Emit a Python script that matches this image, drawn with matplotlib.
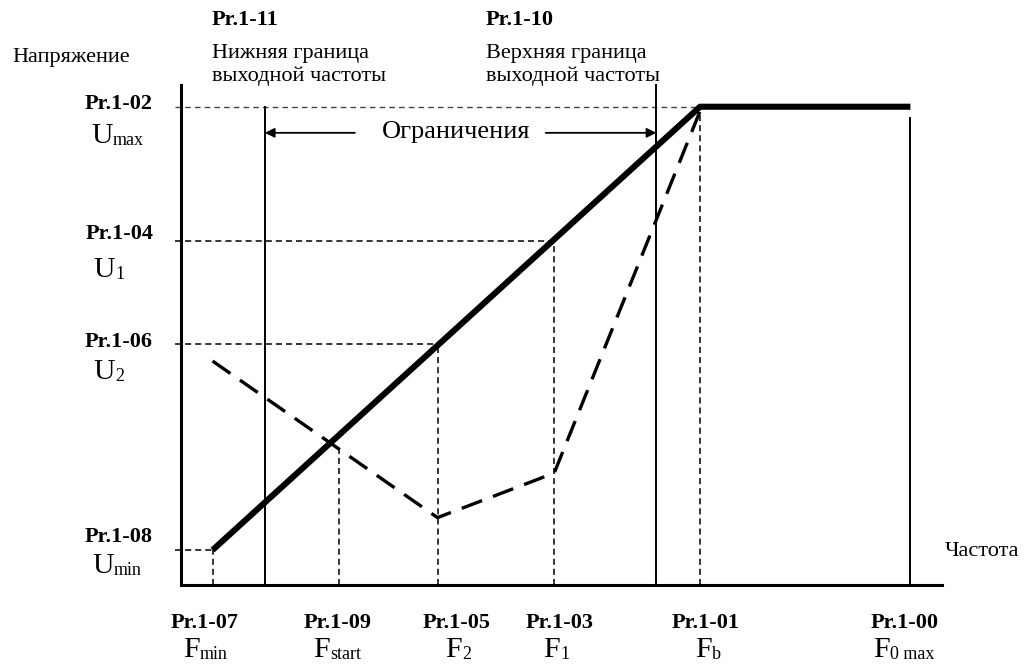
import numpy as np
import matplotlib
matplotlib.use("Agg")
import matplotlib.pyplot as plt

plt.rcParams['font.family'] = ['Liberation Serif', 'DejaVu Serif']

# frequencies (Hz) of the characteristic points
F_min = 2.6
F_low = 6.9      # Pr.1-11 lower limit
F_start = 13.0
F_2 = 21.1
F_1 = 30.7
F_high = 39.1    # Pr.1-10 upper limit
F_b = 42.7
F_0max = 60.0
x_end = 62.6

# voltages (V)
U_min = 16.1
U_2 = 110.9
U_1 = 158.3
U_max = 220.0
y_top = 230.0
U_f0 = 215.0     # height of the F0max line

# solid V/f line
solid_x = [F_min, F_b, F_0max]
solid_y = [U_min, U_max, U_max]

# dashed custom curve
curve_x = [F_min, F_2, F_1, F_b]
curve_y = [103.0, 31.0, 51.5, 218.0]

left_labels = ["Pr.1-02", "Pr.1-04", "Pr.1-06", "Pr.1-08"]
bottom_labels = ["Pr.1-07", "Pr.1-09", "Pr.1-05", "Pr.1-03", "Pr.1-01", "Pr.1-00"]

W, H = 1027, 668
fig = plt.figure(figsize=(W / 100, H / 100), dpi=100)
ax = fig.add_axes([181 / W, (H - 585) / H, (942 - 181) / W, 500 / H])
ax.set_xlim(0, x_end)
ax.set_ylim(0, y_top)
for s in ['top', 'right']:
    ax.spines[s].set_visible(False)
for s in ['left', 'bottom']:
    ax.spines[s].set_linewidth(2.2)
ax.set_xticks([])
ax.set_yticks([])

thin = dict(color='k', lw=1.1, dashes=(4, 2.6), clip_on=False)

# horizontal guides
ax.plot([-0.5, F_b], [U_max, U_max], color='#444444', lw=1.0, dashes=(4, 3), clip_on=False)
ax.plot([-0.5, F_1], [U_1, U_1], **thin)
ax.plot([-0.5, F_2], [U_2, U_2], **thin)
ax.plot([-0.5, F_min], [U_min, U_min], **thin)

# vertical guides
ax.plot([F_min, F_min], [0, U_min], **thin)
ax.plot([F_start, F_start], [0, np.interp(F_start, curve_x, curve_y)], **thin)
ax.plot([F_2, F_2], [0, np.interp(F_2, solid_x, solid_y)], **thin)
ax.plot([F_1, F_1], [0, np.interp(F_1, solid_x, solid_y)], **thin)
ax.plot([F_b, F_b], [0, U_max - 3], **thin)

# limit lines and F0max
ax.plot([F_low, F_low], [0, U_max], color='k', lw=1.4)
ax.plot([F_high, F_high], [0, y_top], color='k', lw=1.4, clip_on=False)
ax.plot([F_0max, F_0max], [0, U_f0], color='k', lw=1.4)

# curves
ax.plot(curve_x, curve_y, color='k', lw=2.4, dashes=(6.5, 3.5))
ax.plot(solid_x, solid_y, color='k', lw=4.4, solid_capstyle='butt')

# "Ограничения" arrows
arr_y = 208
ax.annotate('', xy=(F_low, arr_y), xytext=(14.3, arr_y),
            arrowprops=dict(arrowstyle='-|>', color='k', lw=1.3, mutation_scale=14,
                            shrinkA=0, shrinkB=0))
ax.annotate('', xy=(F_high, arr_y), xytext=(30.0, arr_y),
            arrowprops=dict(arrowstyle='-|>', color='k', lw=1.3, mutation_scale=14,
                            shrinkA=0, shrinkB=0))


def px(x, y):
    return x / W, 1 - y / H


def label(x, y, s, **kw):
    kw.setdefault('va', 'baseline')
    fig.text(*px(x, y), s, **kw)


def sub_label(xs, yb, main, sub):
    label(xs, yb, main, ha='right', fontsize=21.5)
    label(xs, yb + 2, sub, ha='left', fontsize=13)


label(456, 138, "Ограничения", ha='center', fontsize=19)
label(12, 62, "Напряжение", fontsize=16)
label(945, 556, "Частота", fontsize=16)

label(212, 25, "Pr.1-11", fontsize=16, fontweight='bold')
label(212, 58, "Нижняя граница", fontsize=16)
label(212, 81, "выходной частоты", fontsize=16)
label(486, 25, "Pr.1-10", fontsize=16, fontweight='bold')
label(486, 58, "Верхняя граница", fontsize=16)
label(486, 81, "выходной частоты", fontsize=16)

for s, yb in zip(left_labels, [109, 239, 347, 542]):
    label(153, yb, s, ha='right', fontsize=16, fontweight='bold')
sub_label(113, 143, "U", "max")
sub_label(115, 277, "U", "1")
sub_label(115, 379, "U", "2")
sub_label(114, 573, "U", "min")

for s, xc in zip(bottom_labels, [205, 338, 457, 560, 706, 905]):
    label(xc, 628, s, ha='center', fontsize=16, fontweight='bold')
sub_label(200, 657, "F", "min")
sub_label(330, 657, "F", "start")
sub_label(462, 657, "F", "2")
sub_label(560, 657, "F", "1")
sub_label(712, 657, "F", "b")
sub_label(890, 657, "F", "0 max")

plt.savefig("out.png", dpi=100)
